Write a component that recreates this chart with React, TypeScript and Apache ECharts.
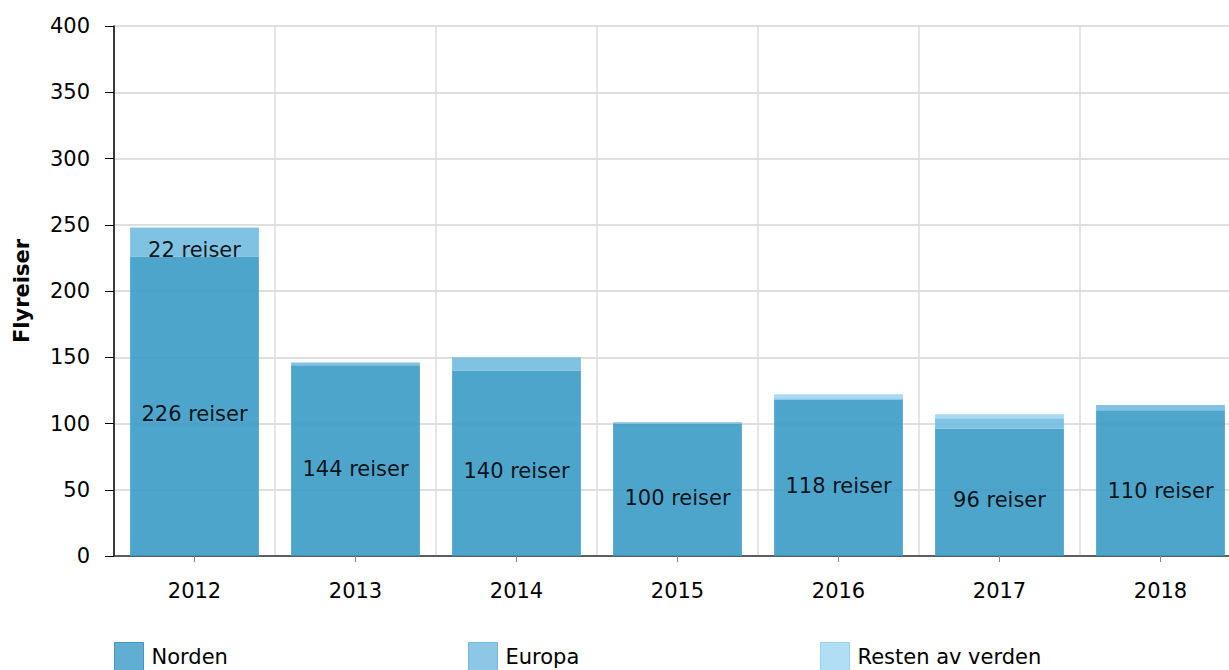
import React, { useEffect, useRef } from "react";
import * as echarts from "echarts";

const years = ["2012", "2013", "2014", "2015", "2016", "2017", "2018"];
const norden = [226, 144, 140, 100, 118, 96, 110];
const europa = [22, 2, 10, 1, 1, 8, 4];
const resten = [0, 0, 0, 0, 3, 3, 0];
const yTicks = { min: 0, max: 400, interval: 50 };

const FONT = "'DejaVu Sans', Verdana, sans-serif";

export default function App() {
  const ref = useRef<HTMLDivElement>(null);
  useEffect(() => {
    const chart = echarts.init(ref.current!, null, { renderer: "svg" });
    const label = {
      show: true,
      position: "inside",
      offset: [0, 8],
      color: "#000",
      fontSize: 21,
      fontFamily: FONT,
      formatter: (p: any) => (p.value >= 15 ? `${p.value} reiser` : ""),
    };
    const mk = (name: string, data: number[], color: string) => ({
      name,
      type: "bar",
      stack: "total",
      data,
      barCategoryGap: "20%",
      itemStyle: { color, opacity: 0.9 },
      label,
      emphasis: { disabled: true },
    });
    const legendBase = (left: number, name: string, color: string, border: string) => ({
      left,
      top: 642,
      padding: 0,
      itemWidth: 29,
      itemHeight: 28,
      itemGap: 0,
      icon: "rect",
      textStyle: { fontSize: 21, fontFamily: FONT, color: "#000", padding: [0, 0, 0, 3] },
      data: [{ name, itemStyle: { color, borderColor: border, borderWidth: 1 } }],
    });
    chart.setOption({
      animation: false,
      textStyle: { fontFamily: FONT },
      grid: { left: 114, top: 26, width: 1127, height: 530, containLabel: false },
      legend: [
        legendBase(114, "Norden", "#4fa5cc", "#3b8fbb"),
        legendBase(468, "Europa", "#80c2e2", "#6ab3d9"),
        legendBase(820, "Resten av verden", "#a8daf3", "#8fcdee"),
      ],
      xAxis: {
        type: "category",
        data: years,
        axisLine: { lineStyle: { color: "#333", width: 1.5 } },
        axisTick: { show: true, alignWithLabel: true, length: 6, lineStyle: { color: "#888" } },
        axisLabel: { color: "#000", fontSize: 21, fontFamily: FONT, margin: 24 },
        splitLine: { show: true, lineStyle: { color: "#ddd", width: 1.5 } },
      },
      yAxis: {
        type: "value",
        min: yTicks.min,
        max: yTicks.max,
        interval: yTicks.interval,
        name: "Flyreiser",
        nameLocation: "middle",
        nameGap: 82,
        nameRotate: 90,
        nameTextStyle: { fontSize: 21, fontWeight: "bold", color: "#000", fontFamily: FONT },
        axisLine: { show: true, lineStyle: { color: "#000", width: 1.5 } },
        axisTick: { show: true, length: 9, lineStyle: { color: "#000" } },
        axisLabel: { color: "#000", fontSize: 21, fontFamily: FONT, margin: 24 },
        splitLine: { show: true, lineStyle: { color: "#d5d5d5", width: 1.5 } },
      },
      series: [
        mk("Norden", norden, "#3b9bc6"),
        mk("Europa", europa, "#72bbdf"),
        mk("Resten av verden", resten, "#9ed6f2"),
      ],
    });
    return () => chart.dispose();
  }, []);
  return (
    <div style={{ position: "fixed", left: 0, top: 0, width: 1229, height: 670, overflow: "hidden", background: "#fff" }}>
      <div ref={ref} style={{ width: 1260, height: 670 }} />
    </div>
  );
}
